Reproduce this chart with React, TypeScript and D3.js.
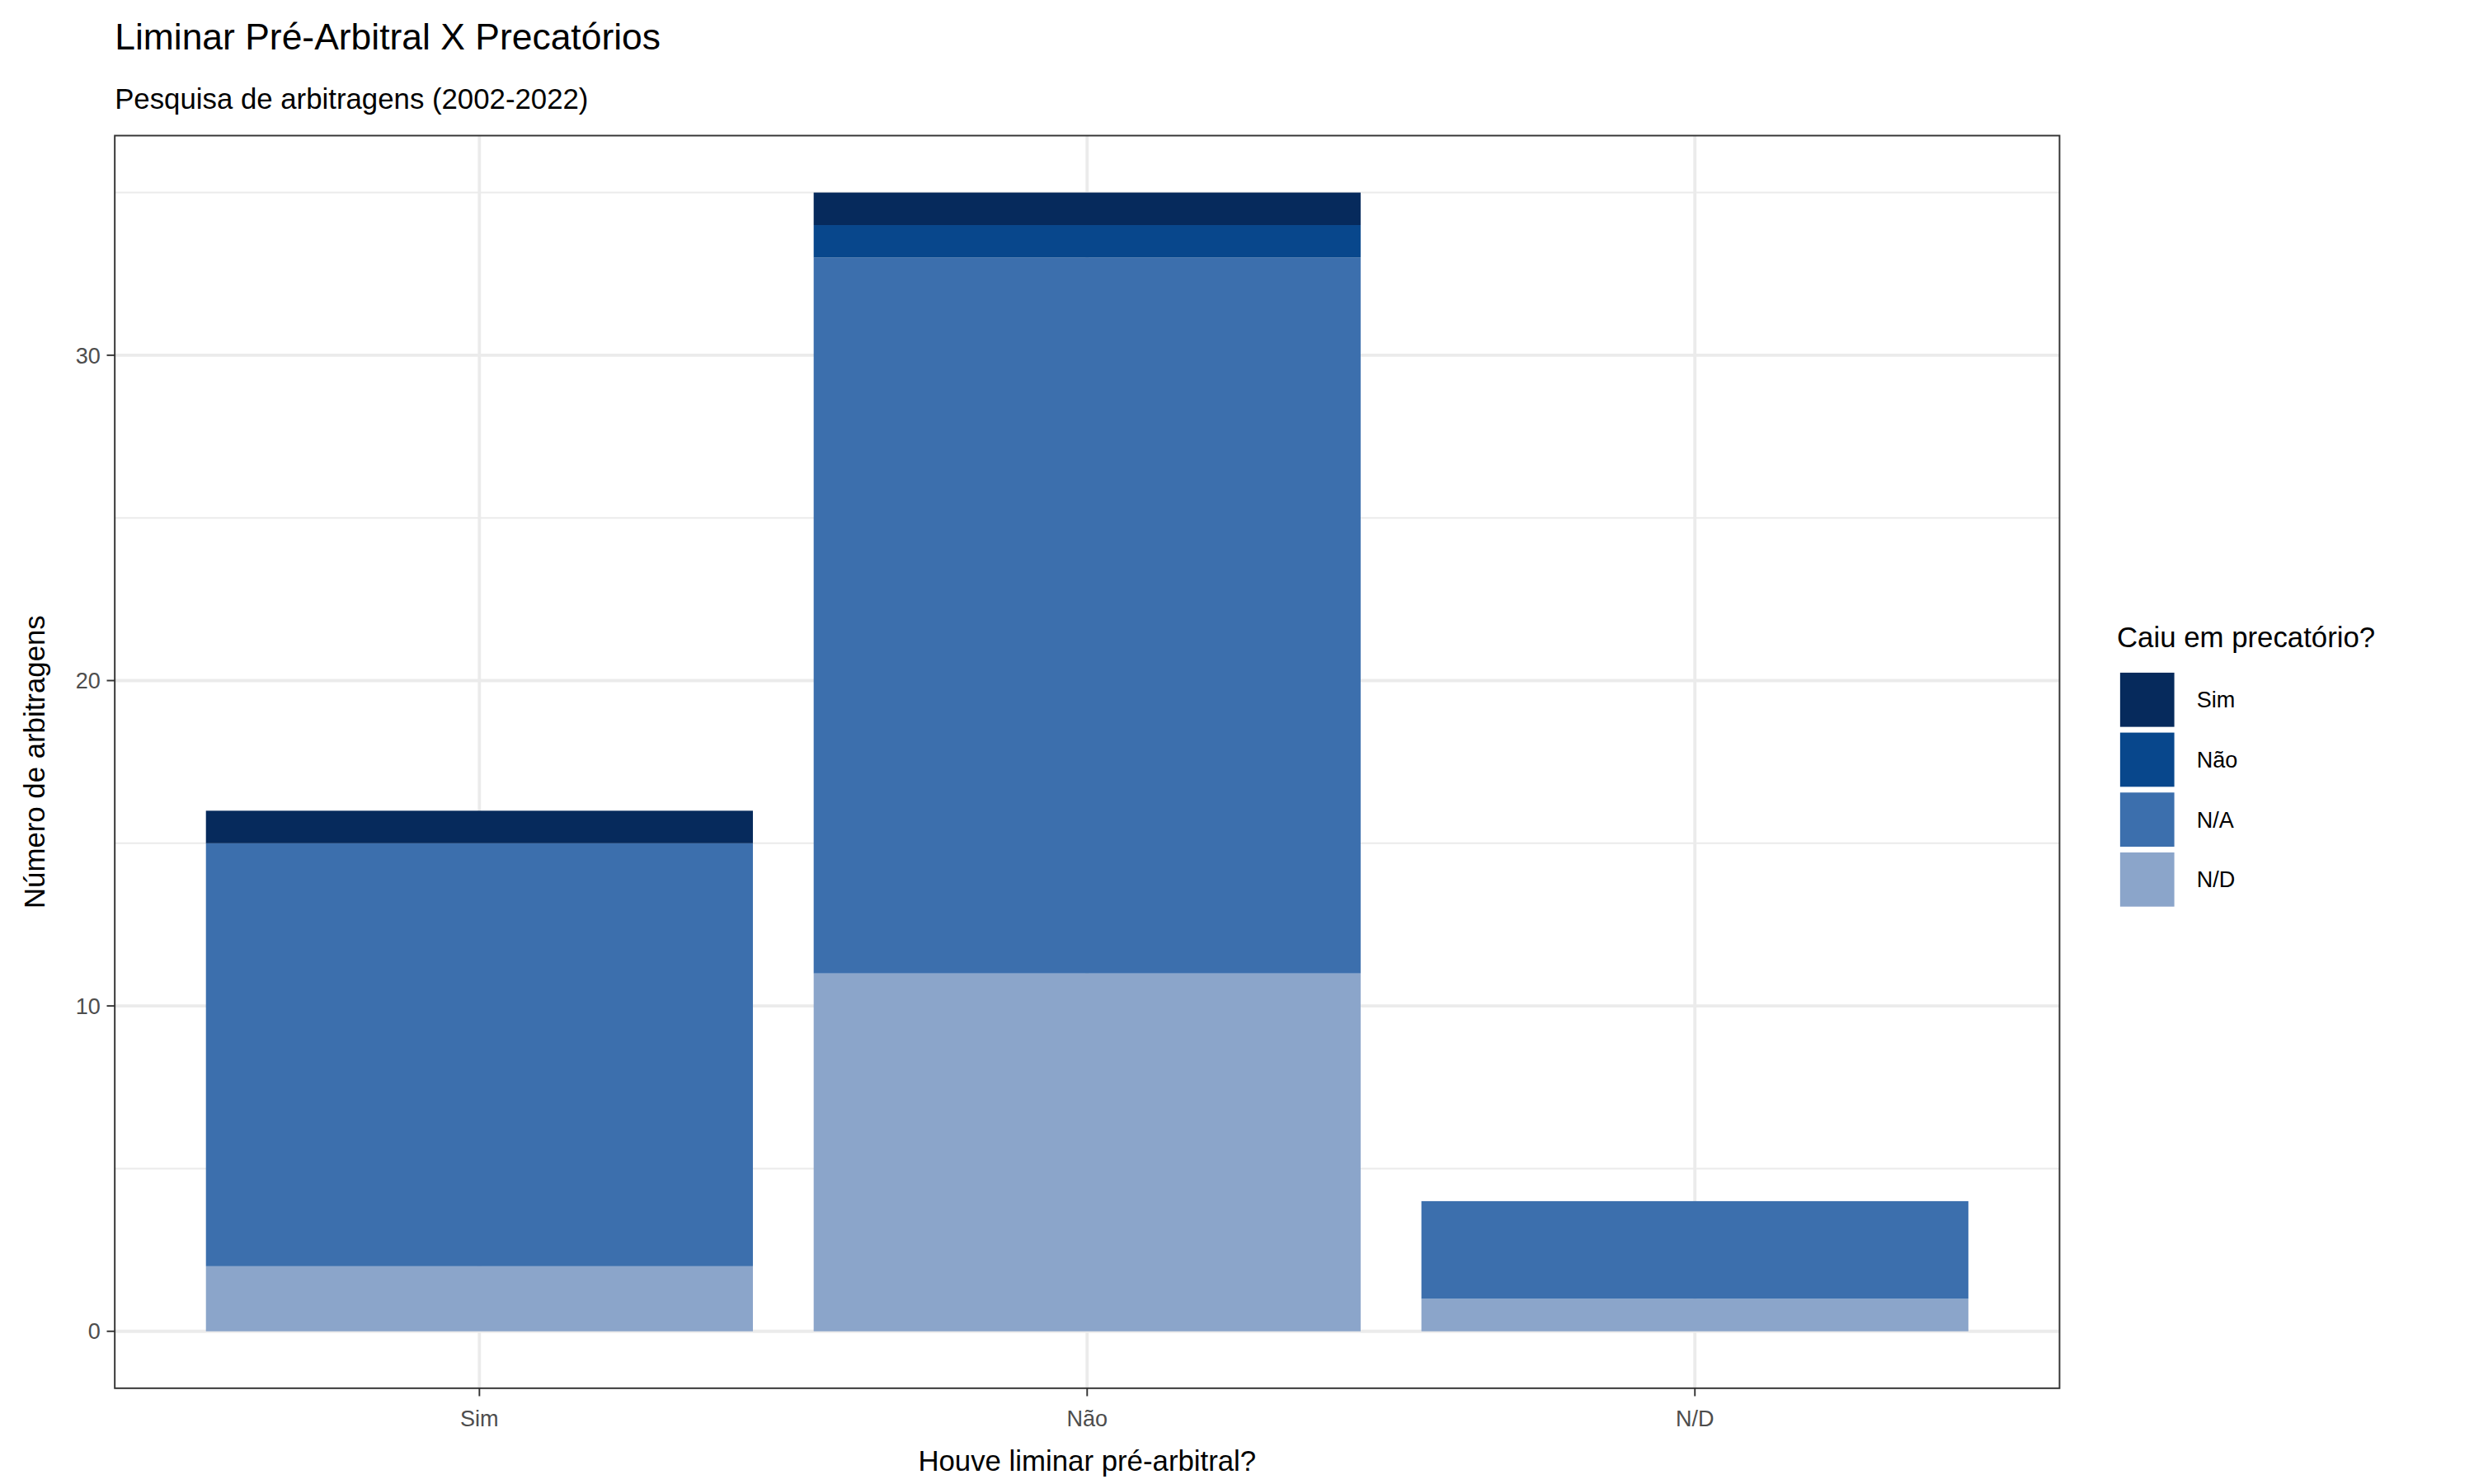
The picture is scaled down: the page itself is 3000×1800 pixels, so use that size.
import React from "react";
import * as d3 from "d3";

const categories = ["Sim", "Não", "N/D"];
const fillLevels = ["Sim", "Não", "N/A", "N/D"];
// stacked from bottom: N/D, N/A, Não, Sim
const valuesND = [2, 11, 1];
const valuesNA = [13, 22, 3];
const valuesNao = [0, 1, 0];
const valuesSim = [1, 1, 0];
const fillColors = ["#062A5C", "#08478C", "#3C6FAD", "#8BA5CA"];
const yTicks = [0, 10, 20, 30];
const yMinor = [5, 15, 25, 35];

const W = 1552, H = 931;
const panel = { left: 72, right: 1292, top: 85, bottom: 871 };
const font = "Liberation Sans, Arial, Helvetica, sans-serif";

export default function App() {
  const x = d3.scaleLinear().domain([-0.6, 2.6]).range([panel.left, panel.right]);
  const y = d3.scaleLinear().domain([-1.75, 36.75]).range([panel.bottom, panel.top]);
  const color = d3.scaleOrdinal<string, string>().domain(fillLevels).range(fillColors);

  const rows = categories.map((c, i) => ({
    cat: c, "N/D": valuesND[i], "N/A": valuesNA[i], "Não": valuesNao[i], "Sim": valuesSim[i],
  }));
  const stack = d3.stack<any>().keys(["N/D", "N/A", "Não", "Sim"]);
  const series = stack(rows);
  const bw = x(0.45) - x(0);

  return (
    <svg width={3000} height={1800} viewBox={`0 0 ${W} ${H}`}
      style={{ position: "absolute", left: 0, top: 0, background: "#fff" }} fontFamily={font}>
      <rect x={0} y={0} width={W} height={H} fill="#fff" />
      <text x={72} y={31} fontSize={23} fill="#000">Liminar Pré-Arbitral X Precatórios</text>
      <text x={72} y={68} fontSize={18} fill="#000">Pesquisa de arbitragens (2002-2022)</text>

      {yMinor.map((t) => (
        <line key={"m" + t} x1={panel.left} x2={panel.right} y1={y(t)} y2={y(t)} stroke="#EBEBEB" strokeWidth={1} />
      ))}
      {yTicks.map((t) => (
        <line key={"g" + t} x1={panel.left} x2={panel.right} y1={y(t)} y2={y(t)} stroke="#EBEBEB" strokeWidth={2} />
      ))}
      {categories.map((c, i) => (
        <line key={"v" + c} x1={x(i)} x2={x(i)} y1={panel.top} y2={panel.bottom} stroke="#EBEBEB" strokeWidth={2} />
      ))}

      {series.map((s) =>
        s.map((d, i) =>
          d[1] - d[0] > 0 ? (
            <rect key={s.key + i} x={x(i) - bw} width={bw * 2} y={y(d[1])} height={y(d[0]) - y(d[1])}
              fill={color(s.key as string)} />
          ) : null
        )
      )}

      <rect x={panel.left} y={panel.top} width={panel.right - panel.left} height={panel.bottom - panel.top}
        fill="none" stroke="#333" strokeWidth={1} />

      {yTicks.map((t) => (
        <g key={"yt" + t}>
          <line x1={panel.left - 5} x2={panel.left} y1={y(t)} y2={y(t)} stroke="#333" />
          <text x={panel.left - 9} y={y(t) + 5} fontSize={14} fill="#4D4D4D" textAnchor="end">{t}</text>
        </g>
      ))}
      {categories.map((c, i) => (
        <g key={"xt" + c}>
          <line x1={x(i)} x2={x(i)} y1={panel.bottom} y2={panel.bottom + 5} stroke="#333" />
          <text x={x(i)} y={panel.bottom + 24} fontSize={14} fill="#4D4D4D" textAnchor="middle">{c}</text>
        </g>
      ))}

      <text x={(panel.left + panel.right) / 2} y={923} fontSize={18} textAnchor="middle" fill="#000">
        Houve liminar pré-arbitral?
      </text>
      <text transform={`translate(28,${(panel.top + panel.bottom) / 2}) rotate(-90)`} fontSize={18}
        textAnchor="middle" fill="#000">Número de arbitragens</text>

      <text x={1328} y={406} fontSize={18} fill="#000">Caiu em precatório?</text>
      {fillLevels.map((k, i) => (
        <g key={"l" + k} transform={`translate(1330,${422 + i * 37.6})`}>
          <rect width={34} height={34} fill={color(k)} />
          <text x={48} y={22} fontSize={14} fill="#000">{k}</text>
        </g>
      ))}
    </svg>
  );
}
